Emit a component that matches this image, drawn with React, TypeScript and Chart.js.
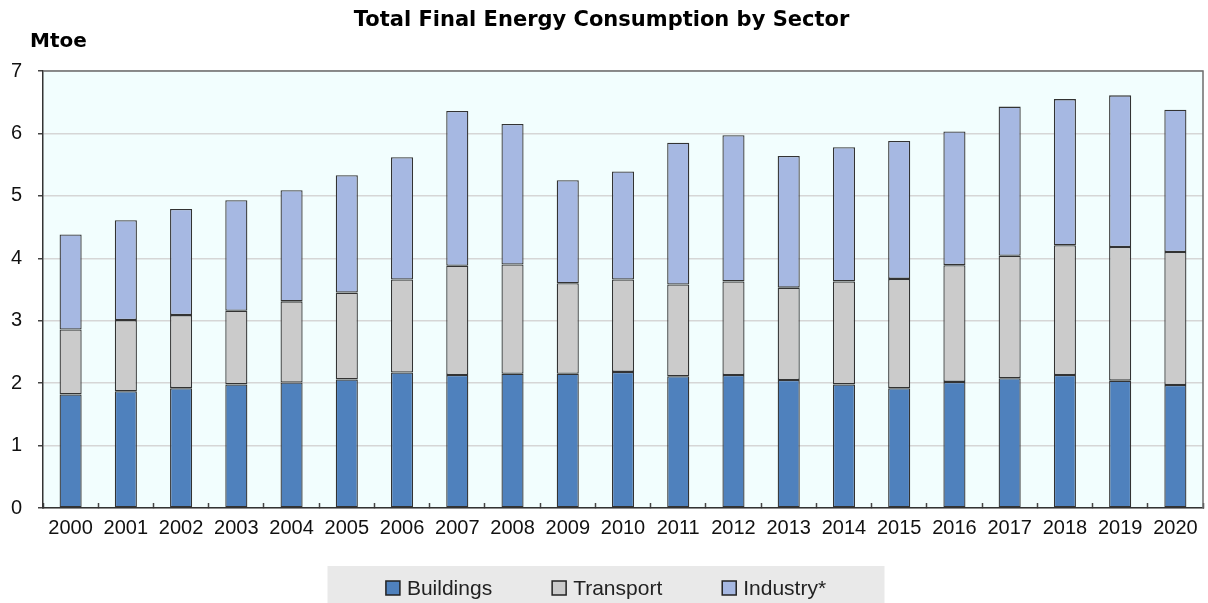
import React, { useEffect, useRef } from "react";
import { Chart, registerables } from "chart.js";

Chart.register(...registerables);

const years = [
  "2000", "2001", "2002", "2003", "2004", "2005", "2006", "2007", "2008", "2009", "2010",
  "2011", "2012", "2013", "2014", "2015", "2016", "2017", "2018", "2019", "2020",
];
const buildings = [1.82, 1.87, 1.92, 1.98, 2.01, 2.06, 2.17, 2.13, 2.15, 2.15, 2.18, 2.11, 2.13, 2.05, 1.98, 1.92, 2.02, 2.08, 2.13, 2.04, 1.97];
const transport = [1.04, 1.14, 1.17, 1.18, 1.30, 1.39, 1.49, 1.75, 1.75, 1.45, 1.48, 1.47, 1.50, 1.48, 1.65, 1.75, 1.87, 1.96, 2.08, 2.14, 2.13];
const industry = [1.52, 1.60, 1.70, 1.77, 1.78, 1.88, 1.96, 2.48, 2.25, 1.65, 1.73, 2.27, 2.34, 2.11, 2.15, 2.21, 2.14, 2.39, 2.34, 2.43, 2.28];
const seriesLabels = ["Buildings", "Transport", "Industry*"];
const seriesColors = ["#4F81BD", "#CBCBCB", "#A6B8E2"];
const yMin = 0;
const yMax = 7;
const yStep = 1;
const titleText = "Total Final Energy Consumption by Sector";
const unitText = "Mtoe";

const SANS = "'Liberation Sans', Arial, sans-serif";
const BOLD = "'DejaVu Sans', 'Open Sans', sans-serif";

const plotFramePlugin = {
  id: "plotFrame",
  beforeDraw(chart: any) {
    const { ctx, chartArea } = chart;
    ctx.save();
    ctx.fillStyle = "#F2FEFE";
    ctx.fillRect(chartArea.left, chartArea.top, chartArea.right - chartArea.left, chartArea.bottom - chartArea.top);
    ctx.restore();
  },
  afterDraw(chart: any) {
    const { ctx, chartArea } = chart;
    ctx.save();
    ctx.strokeStyle = "#6E6E6E";
    ctx.lineWidth = 1.5;
    ctx.beginPath();
    ctx.moveTo(chartArea.left, chartArea.top);
    ctx.lineTo(chartArea.right, chartArea.top);
    ctx.lineTo(chartArea.right, chartArea.bottom);
    ctx.stroke();
    // unit label
    ctx.fillStyle = "#000";
    ctx.font = `bold 20px ${BOLD}`;
    ctx.textAlign = "left";
    ctx.textBaseline = "alphabetic";
    ctx.fillText(unitText, chartArea.left - 13, chartArea.top - 24);
    ctx.restore();
  },
};

const boxLegendPlugin = {
  id: "boxLegend",
  afterDraw(chart: any) {
    const { ctx, width } = chart;
    const ds = chart.data.datasets;
    ctx.save();
    ctx.font = `21px ${SANS}`;
    const sq = 14;
    const gap = 7;
    const spacing = 60;
    const widths = ds.map((d: any) => ctx.measureText(d.label).width);
    const total = widths.reduce((a: number, w: number) => a + sq + gap + w, 0) + spacing * (ds.length - 1);
    const cx = width / 2 + 2;
    const boxW = 557;
    const boxTop = 566;
    ctx.fillStyle = "#E9E9E9";
    ctx.fillRect(cx - boxW / 2, boxTop, boxW, chart.height - boxTop);
    let x = cx - total / 2;
    const cy = 588;
    ds.forEach((d: any, i: number) => {
      ctx.fillStyle = d.backgroundColor;
      ctx.fillRect(x, cy - sq / 2, sq, sq);
      ctx.strokeStyle = "#222";
      ctx.lineWidth = 1.5;
      ctx.strokeRect(x, cy - sq / 2, sq, sq);
      ctx.fillStyle = "#222";
      ctx.textAlign = "left";
      ctx.textBaseline = "middle";
      ctx.fillText(d.label, x + sq + gap, cy + 1);
      x += sq + gap + widths[i] + spacing;
    });
    ctx.restore();
  },
};

export default function App() {
  const canvasRef = useRef<HTMLCanvasElement | null>(null);

  useEffect(() => {
    if (!canvasRef.current) return;
    const seriesData = [buildings, transport, industry];
    const chart = new Chart(canvasRef.current, {
      type: "bar",
      data: {
        labels: years,
        datasets: seriesData.map((values, i) => ({
          label: seriesLabels[i],
          data: values,
          backgroundColor: seriesColors[i],
          borderColor: "#333333",
          borderWidth: 1.3,
          borderSkipped: false,
          barPercentage: 0.4,
          categoryPercentage: 1.0,
        })),
      },
      options: {
        animation: false,
        responsive: true,
        maintainAspectRatio: false,
        layout: { padding: { left: 0, right: 5, top: 0, bottom: 0 } },
        plugins: {
          legend: { display: false },
          tooltip: { enabled: false },
          title: {
            display: true,
            text: titleText,
            color: "#000",
            font: { family: BOLD, size: 21, weight: "bold" },
            padding: { top: 8, bottom: 37.8 },
          },
        },
        scales: {
          x: {
            stacked: true,
            grid: {
              offset: true,
              drawOnChartArea: false,
              drawTicks: true,
              tickLength: -5,
              tickColor: "#444",
              tickWidth: 1.5,
            },
            border: { color: "#333", width: 1.5 },
            ticks: {
              font: { family: SANS, size: 20 },
              color: "#111",
              padding: 13,
              maxRotation: 0,
              autoSkip: false,
            },
            afterFit: (s: any) => {
              s.height = 95;
              s.paddingLeft = 0;
              s.paddingRight = 0;
            },
          },
          y: {
            stacked: true,
            min: yMin,
            max: yMax,
            ticks: {
              stepSize: yStep,
              font: { family: SANS, size: 20 },
              color: "#111",
              padding: 16,
            },
            grid: {
              color: "#D6D6D6",
              lineWidth: 1.5,
              tickLength: 5,
              tickColor: "#444",
            },
            border: { color: "#333", width: 1.5 },
            afterFit: (s: any) => {
              s.width = 43;
              s.paddingTop = 0;
              s.paddingBottom = 0;
            },
          },
        },
      } as any,
      plugins: [plotFramePlugin, boxLegendPlugin],
    });
    return () => chart.destroy();
  }, []);

  return (
    <div style={{ position: "absolute", left: 0, top: 0, width: 1208, height: 603, background: "#fff" }}>
      <canvas ref={canvasRef} />
    </div>
  );
}
